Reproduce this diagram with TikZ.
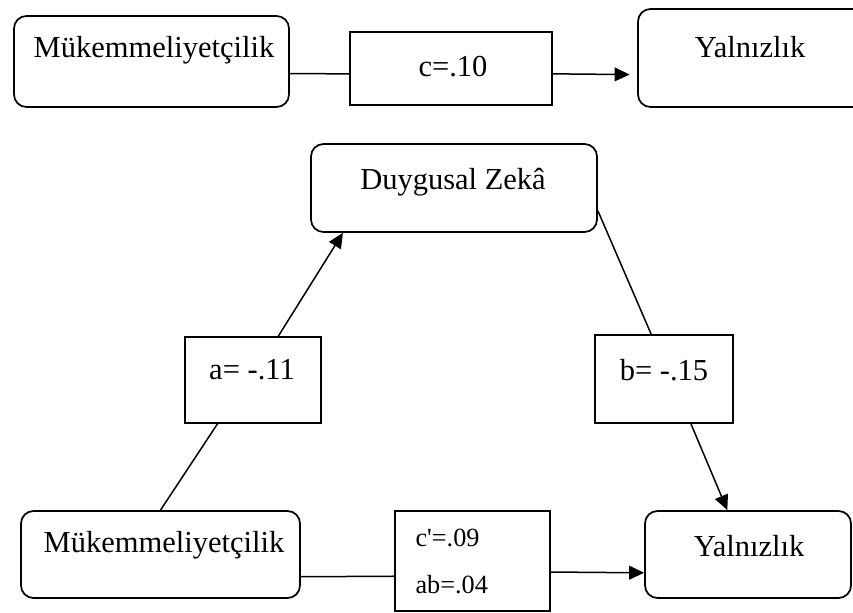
\documentclass[tikz,border=0pt]{standalone}
\usepackage{fontspec}
\setmainfont{Liberation Serif}
\usetikzlibrary{arrows.meta}
\tikzset{
  var/.style={draw, rounded corners=5pt, inner sep=0pt, line width=0.7pt},
  coef/.style={draw, inner sep=0pt, line width=0.7pt},
  lbl/.style={inner sep=0pt, font=\fontsize{12.2}{15}\selectfont},
  small/.style={inner sep=0pt, anchor=west, font=\fontsize{10.5}{12}\selectfont},
  link/.style={line width=0.6pt},
  effect/.style={link, -{Triangle[length=6pt,width=5.5pt]}}
}
\begin{document}
\begin{tikzpicture}[x=0.4pt, y=-0.4pt]
%    \draw (0,0) to[grid with coordinates] (853,613);
    \useasboundingbox (0,0) rectangle (853,613);
    % total effect
    \node[var, minimum width=110pt, minimum height=36.4pt]  (mukT) at (151.5,61.5) {};
    \node[coef, minimum width=80.8pt, minimum height=29.2pt] (cT)   at (451,68.5)   {};
    \node[var, minimum width=94pt, minimum height=39.2pt]    (yalT) at (755.5,58)   {};
    \node[lbl] (mukT-text) at (154,50) {Mükemmeliyetçilik};
    \node[lbl] (cT-text)   at (453,67) {c=.10};
    \node[lbl] (yalT-text) at (750,47) {Yalnızlık};

    \draw[link]   (mukT.-5) to (cT.183);
    \draw[effect,shorten >=3pt] (cT.-3) to (yalT.188);

    % mediation
    \node[var, minimum width=114.4pt, minimum height=35.2pt] (duy)  at (454,188)     {};
    \node[coef, minimum width=54.4pt, minimum height=34.4pt] (aBox) at (253,380)     {};
    \node[coef, minimum width=55.2pt, minimum height=35.2pt] (bBox) at (664,379)     {};
    \node[var, minimum width=111.6pt, minimum height=34.8pt] (mukB) at (160.5,554.5) {};
    \node[coef, minimum width=62pt, minimum height=40pt]     (cp)   at (472.5,561)   {};
    \node[var, minimum width=82.4pt, minimum height=34.8pt]  (yalB) at (748,554.5)   {};
    \node[lbl] (duy-text)  at (453,182) {Duygusal Zekâ};
    \node[lbl] (aBox-text) at (252,370) {a= -.11};
    \node[lbl] (bBox-text) at (664,370) {b= -.15};
    \node[lbl] (mukB-text) at (164,545) {Mükemmeliyetçilik};
    \node[lbl] (yalB-text) at (749,546) {Yalnızlık};
    \node[small] (cp-text)  at (415,538) {c\textquotesingle=.09};
    \node[small] (ab-text)  at (415,585) {ab=.04};

    \draw[link]   (mukB.north) to (aBox.231);
    \draw[effect] (aBox.60)    to (duy.202);
    \draw[link]   (duy.-9)     to (bBox.106);
    \draw[effect] (bBox.-59)   to (yalB.115);
    \draw[link]   (mukB.-9)    to (cp.191);
    \draw[effect] (cp.-8)      to (yalB.190);
\end{tikzpicture}
\end{document}
